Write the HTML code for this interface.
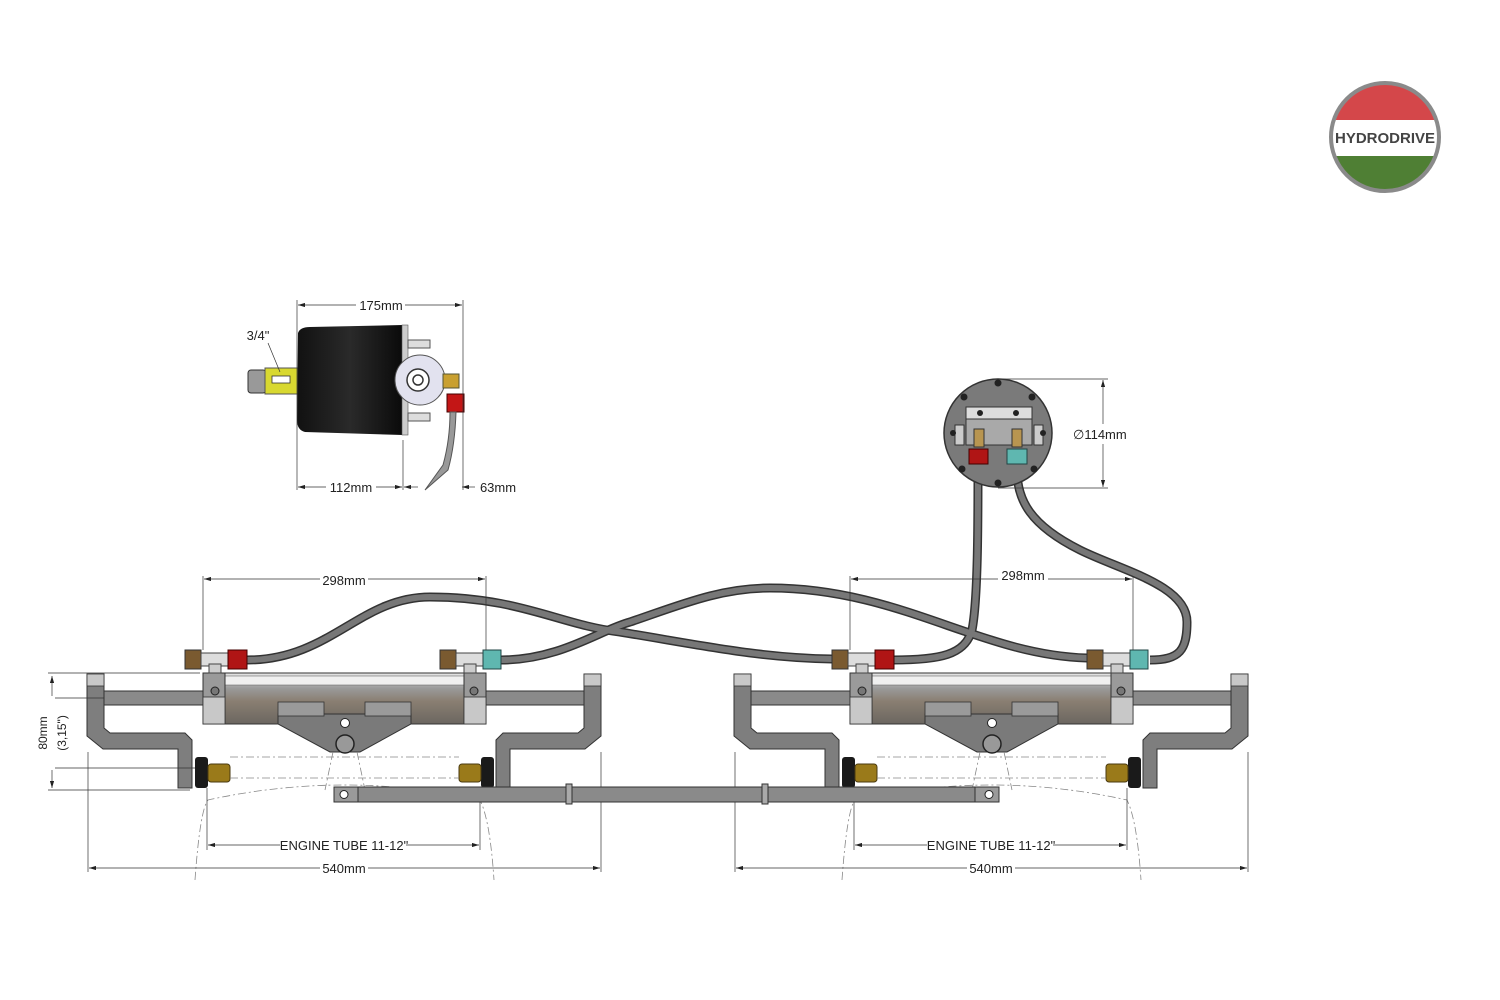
<!DOCTYPE html>
<html><head><meta charset="utf-8"><style>
html,body{margin:0;padding:0;background:#fff;}
svg{display:block;font-family:"Liberation Sans",sans-serif;}
</style></head><body>
<svg width="1500" height="1000" viewBox="0 0 1500 1000" xmlns="http://www.w3.org/2000/svg">
<defs>
<marker id="ar" viewBox="0 0 10 6" refX="10" refY="3" markerWidth="10" markerHeight="6" orient="auto-start-reverse"><path d="M0,0 L10,3 L0,6z" fill="#222"/></marker>
<linearGradient id="cyl" x1="0" y1="0" x2="0" y2="1">
<stop offset="0" stop-color="#e8e8e8"/><stop offset="0.3" stop-color="#9a9a9a"/><stop offset="0.55" stop-color="#8a7f72"/><stop offset="1" stop-color="#6b6660"/></linearGradient>
<linearGradient id="blk" x1="0" y1="0" x2="1" y2="0"><stop offset="0" stop-color="#111"/><stop offset="0.5" stop-color="#2a2a2a"/><stop offset="1" stop-color="#0a0a0a"/></linearGradient>
<g id="asm">
 <rect x="104" y="691" width="100" height="14" fill="#8a8a8a" stroke="#333" stroke-width="1"/>
 <rect x="485" y="691" width="100" height="14" fill="#8a8a8a" stroke="#333" stroke-width="1"/>
 <polygon points="87,674 104,674 104,728 110,733 185,733 192,740 192,788 178,788 178,749 103,749 87,736" fill="#7e7e7e" stroke="#333" stroke-width="1"/>
 <rect x="87" y="674" width="17" height="12" fill="#c8c8c8" stroke="#333" stroke-width="0.8"/>
 <polygon points="601,674 584,674 584,728 578,733 503,733 496,740 496,788 510,788 510,749 585,749 601,736" fill="#7e7e7e" stroke="#333" stroke-width="1"/>
 <rect x="584" y="674" width="17" height="12" fill="#c8c8c8" stroke="#333" stroke-width="0.8"/>
 <rect x="203" y="673" width="283" height="51" fill="url(#cyl)" stroke="#333" stroke-width="1"/>
 <rect x="225" y="676" width="239" height="9" fill="#f0f0f0" stroke="#555" stroke-width="0.5"/>
 <rect x="203" y="673" width="22" height="51" fill="#9a9a9a" stroke="#333" stroke-width="1"/>
 <rect x="464" y="673" width="22" height="51" fill="#9a9a9a" stroke="#333" stroke-width="1"/>
 <rect x="203" y="697" width="22" height="27" fill="#c8c8c8" stroke="#333" stroke-width="0.8"/>
 <rect x="464" y="697" width="22" height="27" fill="#c8c8c8" stroke="#333" stroke-width="0.8"/>
 <circle cx="215" cy="691" r="4" fill="#777" stroke="#222"/>
 <circle cx="474" cy="691" r="4" fill="#777" stroke="#222"/>
 <polygon points="278,714 411,714 411,724 360,752 330,752 278,724" fill="#7a7a7a" stroke="#333" stroke-width="1"/>
 <rect x="278" y="702" width="46" height="14" fill="#9a9a9a" stroke="#333" stroke-width="0.8"/>
 <rect x="365" y="702" width="46" height="14" fill="#9a9a9a" stroke="#333" stroke-width="0.8"/>
 <circle cx="345" cy="723" r="4.5" fill="#fff" stroke="#222"/>
 <circle cx="345" cy="744" r="9" fill="#999" stroke="#222" stroke-width="1.5"/>
 <rect x="195" y="757" width="13" height="31" rx="3" fill="#1a1a1a"/>
 <rect x="208" y="764" width="22" height="18" rx="3" fill="#9a7a1a" stroke="#4a3a10"/>
 <rect x="481" y="757" width="13" height="31" rx="3" fill="#1a1a1a"/>
 <rect x="459" y="764" width="22" height="18" rx="3" fill="#9a7a1a" stroke="#4a3a10"/>
 <rect x="185" y="650" width="16" height="19" fill="#7a5a30" stroke="#333"/>
 <rect x="201" y="653" width="27" height="13" fill="#ddd" stroke="#444"/>
 <rect x="209" y="664" width="12" height="9" fill="#ccc" stroke="#444"/>
 <rect x="228" y="650" width="19" height="19" fill="#b01515" stroke="#400"/>
 <rect x="440" y="650" width="16" height="19" fill="#7a5a30" stroke="#333"/>
 <rect x="456" y="653" width="27" height="13" fill="#ddd" stroke="#444"/>
 <rect x="464" y="664" width="12" height="9" fill="#ccc" stroke="#444"/>
 <rect x="483" y="650" width="18" height="19" fill="#5fb7b0" stroke="#244"/>
 <g stroke="#888" stroke-width="0.8" fill="none" stroke-dasharray="8 3 2 3">
  <line x1="230" y1="757" x2="459" y2="757"/>
  <line x1="230" y1="778" x2="459" y2="778"/>
  <path d="M195,880 Q200,810 208,800 Q345,770 480,800 Q490,820 494,880"/>
  <line x1="333" y1="752" x2="325" y2="790"/>
  <line x1="357" y1="752" x2="365" y2="790"/>
 </g>
 <g stroke="#333" stroke-width="0.7" fill="none">
  <line x1="88" y1="752" x2="88" y2="872"/>
  <line x1="601" y1="752" x2="601" y2="872"/>
  <line x1="207" y1="788" x2="207" y2="850"/>
  <line x1="480" y1="788" x2="480" y2="850"/>
  <line x1="203" y1="576" x2="203" y2="650"/>
  <line x1="486" y1="576" x2="486" y2="650"/>
  <line x1="208" y1="845" x2="280" y2="845" marker-start="url(#ar)"/>
  <line x1="406" y1="845" x2="479" y2="845" marker-end="url(#ar)"/>
  <line x1="89" y1="868" x2="320" y2="868" marker-start="url(#ar)"/>
  <line x1="368" y1="868" x2="600" y2="868" marker-end="url(#ar)"/>
  <line x1="204" y1="579" x2="485" y2="579" marker-start="url(#ar)" marker-end="url(#ar)"/>
 </g>
 <text x="344" y="850" font-size="13" text-anchor="middle" fill="#222">ENGINE TUBE 11-12"</text>
 <text x="344" y="873" font-size="13" text-anchor="middle" fill="#222">540mm</text>
</g>
</defs>

<clipPath id="lc"><circle cx="1385" cy="137" r="53"/></clipPath>
<g clip-path="url(#lc)">
<rect x="1330" y="80" width="110" height="40" fill="#d4474a"/>
<rect x="1330" y="120" width="110" height="36" fill="#fff"/>
<rect x="1330" y="156" width="110" height="40" fill="#4f7f34"/>
</g>
<circle cx="1385" cy="137" r="54" fill="none" stroke="#8a8a8a" stroke-width="4"/>
<text x="1385" y="143" font-size="15" font-weight="bold" text-anchor="middle" fill="#444">HYDRODRIVE</text>

<g fill="none" stroke-linecap="round">
 <path id="h1" d="M247,660 C330,660 360,597 430,597 C520,597 560,625 620,632 C700,645 760,658 832,659"/>
 <path id="h2" d="M501,660 C560,660 600,630 630,622 C680,605 720,588 770,588 C900,588 980,655 1087,658"/>
 <path id="h3" d="M893,660 C940,660 965,655 972,630 C978,600 978,520 978,470"/>
 <path id="h4" d="M1150,660 C1180,660 1187,650 1187,622 C1187,585 1120,570 1080,550 C1030,525 1017,500 1017,470"/>
</g>
<g fill="none" stroke="#333" stroke-width="9"><use href="#h1"/><use href="#h2"/><use href="#h3"/><use href="#h4"/></g>
<g fill="none" stroke="#777" stroke-width="6"><use href="#h1"/><use href="#h2"/><use href="#h3"/><use href="#h4"/></g>

<use href="#asm"/>
<use href="#asm" transform="translate(647,0)"/>
<rect x="320" y="571" width="48" height="16" fill="#fff"/>
<text x="344" y="585" font-size="13" text-anchor="middle" fill="#222">298mm</text>
<rect x="998" y="566" width="50" height="16" fill="#fff"/>
<text x="1023" y="580" font-size="13" text-anchor="middle" fill="#222">298mm</text>

<rect x="334" y="787" width="665" height="15" fill="#8a8a8a" stroke="#333"/>
<rect x="334" y="787" width="24" height="15" fill="#9a9a9a" stroke="#333"/>
<circle cx="344" cy="794.5" r="4" fill="#fff" stroke="#222"/>
<rect x="975" y="787" width="24" height="15" fill="#9a9a9a" stroke="#333"/>
<circle cx="989" cy="794.5" r="4" fill="#fff" stroke="#222"/>
<rect x="566" y="784" width="6" height="20" fill="#aaa" stroke="#333"/>
<rect x="762" y="784" width="6" height="20" fill="#aaa" stroke="#333"/>

<g stroke="#333" stroke-width="0.7">
<line x1="48" y1="673" x2="200" y2="673"/>
<line x1="48" y1="790" x2="190" y2="790"/>
<line x1="55" y1="698" x2="104" y2="698"/>
<line x1="55" y1="768" x2="195" y2="768"/>
<line x1="52" y1="676" x2="52" y2="696" marker-start="url(#ar)"/>
<line x1="52" y1="770" x2="52" y2="788" marker-end="url(#ar)"/>
</g>
<text transform="translate(47,733) rotate(-90)" font-size="12" text-anchor="middle" fill="#222">80mm</text>
<text transform="translate(66,733) rotate(-90)" font-size="12" text-anchor="middle" fill="#222">(3,15")</text>

<rect x="248" y="370" width="18" height="23" rx="3" fill="#999" stroke="#333"/>
<rect x="265" y="368" width="33" height="26" fill="#d8d830" stroke="#555"/>
<rect x="272" y="376" width="18" height="7" fill="#fff" stroke="#333" stroke-width="0.8"/>
<path d="M298,333 Q300,327 310,327 L403,325 L403,435 L305,432 Q297,430 297,420 Z" fill="url(#blk)"/>
<rect x="402" y="325" width="6" height="110" fill="#ccc" stroke="#555" stroke-width="0.6"/>
<circle cx="420" cy="380" r="25" fill="#e2e2ef" stroke="#555"/>
<circle cx="418" cy="380" r="11" fill="#fff" stroke="#333" stroke-width="1.5"/>
<circle cx="418" cy="380" r="5" fill="none" stroke="#333" stroke-width="1.5"/>
<rect x="408" y="340" width="22" height="8" fill="#ddd" stroke="#555"/>
<rect x="408" y="413" width="22" height="8" fill="#ddd" stroke="#555"/>
<rect x="443" y="374" width="16" height="14" fill="#c9a030" stroke="#553"/>
<rect x="447" y="394" width="17" height="18" fill="#c31616" stroke="#400"/>
<path d="M456,412 Q455,445 448,470 L425,490 L443,465 Q450,440 450,412Z" fill="#999" stroke="#555"/>
<g stroke="#333" stroke-width="0.7" fill="none">
<line x1="297" y1="300" x2="297" y2="490"/><line x1="463" y1="300" x2="463" y2="490"/><line x1="403" y1="440" x2="403" y2="490"/>
<line x1="298" y1="305" x2="356" y2="305" marker-start="url(#ar)"/>
<line x1="405" y1="305" x2="462" y2="305" marker-end="url(#ar)"/>
<line x1="298" y1="487" x2="326" y2="487" marker-start="url(#ar)"/>
<line x1="376" y1="487" x2="402" y2="487" marker-end="url(#ar)"/>
<line x1="404" y1="487" x2="418" y2="487" marker-start="url(#ar)"/>
<line x1="462" y1="487" x2="475" y2="487" marker-start="url(#ar)"/>
<line x1="268" y1="343" x2="280" y2="372"/>
</g>
<text x="381" y="310" font-size="13" text-anchor="middle" fill="#222">175mm</text>
<text x="351" y="492" font-size="13" text-anchor="middle" fill="#222">112mm</text>
<text x="498" y="492" font-size="13" text-anchor="middle" fill="#222">63mm</text>
<text x="258" y="340" font-size="13" text-anchor="middle" fill="#222">3/4"</text>

<circle cx="998" cy="433" r="54" fill="#7a7a7a" stroke="#333" stroke-width="1.5"/>
<rect x="966" y="410" width="66" height="35" fill="#a9a9a9" stroke="#333"/>
<rect x="966" y="407" width="66" height="12" fill="#ddd" stroke="#333"/>
<rect x="955" y="425" width="9" height="20" fill="#ccc" stroke="#333"/>
<rect x="1034" y="425" width="9" height="20" fill="#ccc" stroke="#333"/>
<g fill="#222">
<circle cx="998" cy="383" r="3.5"/><circle cx="998" cy="483" r="3.5"/><circle cx="964" cy="397" r="3.5"/><circle cx="1032" cy="397" r="3.5"/>
<circle cx="953" cy="433" r="3"/><circle cx="1043" cy="433" r="3"/><circle cx="962" cy="469" r="3.5"/><circle cx="1034" cy="469" r="3.5"/>
<circle cx="980" cy="413" r="3"/><circle cx="1016" cy="413" r="3"/></g>
<rect x="974" y="429" width="10" height="18" fill="#b89550" stroke="#333"/>
<rect x="1012" y="429" width="10" height="18" fill="#b89550" stroke="#333"/>
<rect x="969" y="449" width="19" height="15" fill="#b01515" stroke="#400"/>
<rect x="1007" y="449" width="20" height="15" fill="#5fb7b0" stroke="#244"/>
<g stroke="#333" stroke-width="0.7" fill="none">
<line x1="998" y1="379" x2="1108" y2="379"/><line x1="998" y1="488" x2="1108" y2="488"/>
<line x1="1103" y1="380" x2="1103" y2="424" marker-start="url(#ar)"/>
<line x1="1103" y1="444" x2="1103" y2="487" marker-end="url(#ar)"/>
</g>
<text x="1073" y="439" font-size="13" fill="#222">∅114mm</text>
</svg>
</body></html>
